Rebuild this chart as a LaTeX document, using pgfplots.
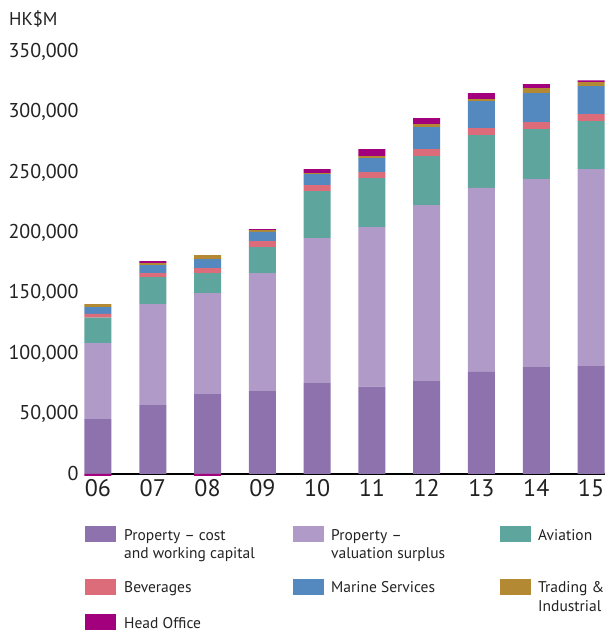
\documentclass[border=0pt]{standalone}
\usepackage{pgfplots}
\usepackage{pgfplotstable}
\pgfplotsset{compat=1.18}
\usepackage{fontspec}
\setmainfont{PT Sans}
\definecolor{pcost}{HTML}{8E72AE}
\definecolor{pval}{HTML}{B09BC8}
\definecolor{avi}{HTML}{5EA59D}
\definecolor{bev}{HTML}{DD6C7A}
\definecolor{mar}{HTML}{5389BF}
\definecolor{trd}{HTML}{B38A33}
\definecolor{hoff}{HTML}{A3007E}
\definecolor{txt}{HTML}{222222}

\pgfplotstableread{
x cost val avi bev mar trd hoff
0 45600 63000 21000 3300 5500 2500 0
1 57200 83700 22400 3300 6700 1600 1700
2 66300 83700 16600 4200 7400 3400 0
3 68800 97800 21600 5000 7700 1400 800
4 75400 120200 39000 5000 9100 800 3300
5 72400 132400 40600 5000 11600 1600 5800
6 77100 145900 40600 5800 18300 2500 4900
7 84600 152800 43600 5800 22400 1700 4900
8 88700 155900 41400 5800 24000 4200 3300
9 89500 163300 39800 5800 23300 3300 1400
}\data
\pgfplotstableread{
x hoff
0 -1500
2 -1500
}\negdata

\begin{document}
\begin{tikzpicture}
\useasboundingbox (0,0) rectangle (606bp,633bp);
\pgfplotsset{common/.style={
  scale only axis, width=520bp, height=422bp,
  at={(85bp,159bp)}, anchor=south west,
  xmin=-0.237, xmax=9.255, ymin=0, ymax=350000,
  clip=false, bar width=27bp,
}}
\begin{axis}[common,
  ybar stacked,
  axis x line*=bottom, axis y line*=left,
  y axis line style={draw=none},
  x axis line style={black, line width=1.2bp},
  major tick length=0pt,
  xtick={0,...,9},
  xticklabels={06,07,08,09,10,11,12,13,14,15},
  ytick={0,50000,...,350000},
  scaled y ticks=false,
  /pgf/number format/.cd, fixed, 1000 sep={,}, assume math mode=true,
  /pgfplots/.cd,
  yticklabel style={font=\fontsize{20bp}{22bp}\selectfont, text=txt, anchor=east, xshift=-3bp},
  xticklabel style={font=\fontsize{24bp}{26bp}\selectfont, text=txt, anchor=north, yshift=-2bp},
  every axis plot/.append style={draw=none},
]
\addplot[fill=pcost] table[x=x,y=cost]{\data};
\addplot[fill=pval] table[x=x,y=val]{\data};
\addplot[fill=avi] table[x=x,y=avi]{\data};
\addplot[fill=bev] table[x=x,y=bev]{\data};
\addplot[fill=mar] table[x=x,y=mar]{\data};
\addplot[fill=trd] table[x=x,y=trd]{\data};
\addplot[fill=hoff] table[x=x,y=hoff]{\data};
\end{axis}
\begin{axis}[common, ybar, hide axis]
\addplot[fill=hoff, draw=none] table[x=x,y=hoff]{\negdata};
\end{axis}
% title
\node[anchor=base west, text=txt, font=\fontsize{18.5bp}{20bp}\selectfont, inner sep=0pt] at (9bp,607bp) {HK\$M};
% legend
\begin{scope}[every node/.style={anchor=base west, inner sep=0pt, text=txt, font=\fontsize{15.5bp}{18bp}\selectfont}]
\fill[pcost] (85bp,91.3bp) rectangle (116bp,107bp);
\node at (124bp,92bp) {Property – cost};
\node at (124bp,74bp) {and working capital};
\fill[pval] (292.7bp,91.3bp) rectangle (323.7bp,107bp);
\node at (331bp,92bp) {Property –};
\node at (331bp,74bp) {valuation surplus};
\fill[avi] (500bp,91.3bp) rectangle (531bp,107bp);
\node at (538bp,92bp) {Aviation};
\fill[bev] (85bp,38bp) rectangle (116bp,54bp);
\node at (124bp,40bp) {Beverages};
\fill[mar] (292.7bp,38bp) rectangle (323.7bp,54bp);
\node at (331bp,40bp) {Marine Services};
\fill[trd] (500bp,38bp) rectangle (531bp,54bp);
\node at (538bp,40bp) {Trading \&};
\node at (538bp,21.3bp) {Industrial};
\fill[hoff] (85bp,3.3bp) rectangle (116bp,19bp);
\node at (124bp,5bp) {Head Office};
\end{scope}
\end{tikzpicture}
\end{document}
